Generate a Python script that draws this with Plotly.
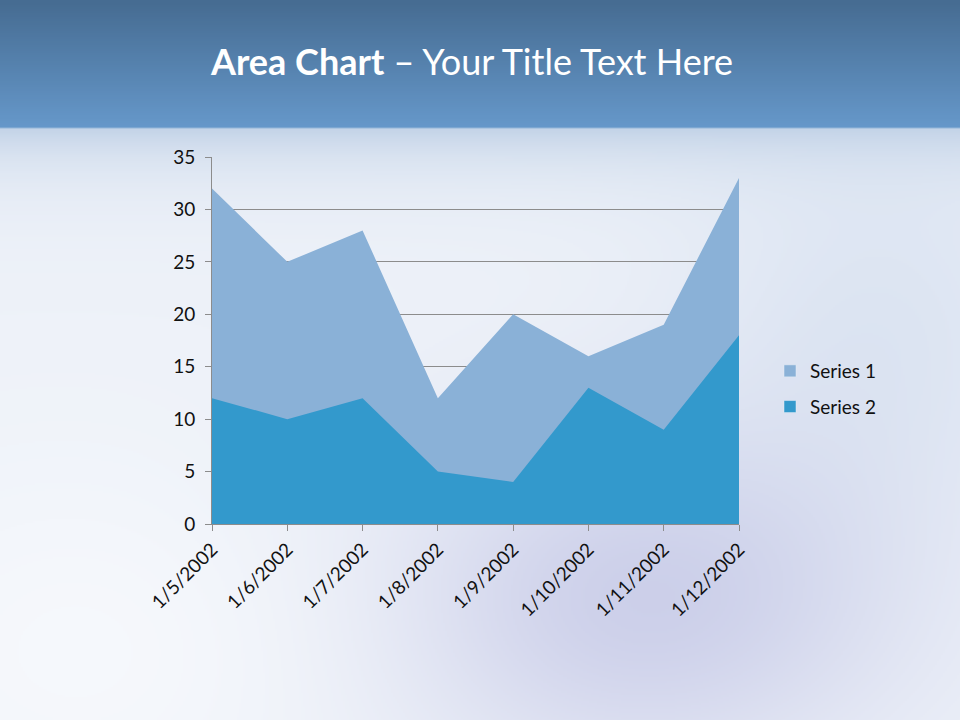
import base64, struct, zlib
import numpy as np
import plotly.graph_objects as go

# ---- data ----
categories = ["1/5/2002", "1/6/2002", "1/7/2002", "1/8/2002",
              "1/9/2002", "1/10/2002", "1/11/2002", "1/12/2002"]
series1 = [32, 25, 28, 12, 20, 16, 19, 33]
series2 = [12, 10, 12, 5, 4, 13, 9, 18]
series_names = ["Series 1", "Series 2"]
colors = ["#8AB1D7", "#3399CC"]

W, H = 960, 720
L, R, T, B = 212, 739, 157, 524
pw, ph = R - L, B - T

# ---- background image (gradient slide) ----
def make_bg(w=480, h=360):
    s = W / w
    ys, xs = np.mgrid[0:h, 0:w].astype(float)
    ys *= s; xs *= s
    img = np.zeros((h, w, 3))
    base = np.array([238, 242, 249], float)
    img[:] = base
    d = np.exp(-(((xs - 640) / 260) ** 2 + ((ys - 600) / 170) ** 2))
    img += d[..., None] * (np.array([205, 208, 234]) - base)
    d2 = np.exp(-(((xs - 880) / 200) ** 2 + ((ys - 330) / 200) ** 2))
    img += d2[..., None] * (np.array([214, 224, 240]) - base) * 0.7
    d3 = np.exp(-(((xs - 80) / 260) ** 2 + ((ys - 650) / 200) ** 2))
    img += d3[..., None] * (np.array([248, 250, 253]) - img) * 0.8
    f = np.clip(np.exp(-(ys - 128) / 40), 0, 1)
    f[ys < 128] = 0
    under = np.array([196, 212, 232], float)
    img = img * (1 - f[..., None]) + under * f[..., None]
    top = np.array([70, 108, 146], float)
    bot = np.array([102, 152, 202], float)
    t = np.clip(ys / 125.0, 0, 1)
    ban = top * (1 - t[..., None]) + bot * t[..., None]
    m = (ys < 128)[..., None]
    img = np.where(m, ban, img)
    img = np.clip(img, 0, 255).astype(np.uint8)
    raw = b"".join(b"\x00" + img[r].tobytes() for r in range(h))
    def chunk(tag, data):
        c = struct.pack(">I", len(data)) + tag + data
        return c + struct.pack(">I", zlib.crc32(tag + data) & 0xffffffff)
    png = b"\x89PNG\r\n\x1a\n" + chunk(b"IHDR", struct.pack(">IIBBBBB", w, h, 8, 2, 0, 0, 0)) \
        + chunk(b"IDAT", zlib.compress(raw, 9)) + chunk(b"IEND", b"")
    return "data:image/png;base64," + base64.b64encode(png).decode()

bg = make_bg()

fig = go.Figure()
fig.add_trace(go.Scatter(x=categories, y=series1, name=series_names[0], mode="none",
                         fill="tozeroy", fillcolor=colors[0], showlegend=False))
fig.add_trace(go.Scatter(x=categories, y=series2, name=series_names[1], mode="none",
                         fill="tozeroy", fillcolor=colors[1], showlegend=False))
# legend-only entries (square swatches)
for i, (nm, c) in enumerate(zip(series_names, colors)):
    fig.add_trace(go.Bar(x=[categories[0]], y=[None], name=nm, marker_color=c,
                         legendgroup=f"g{i}", showlegend=True))

font = "Lato, 'Open Sans', sans-serif"
fig.update_layout(
    width=W, height=H,
    margin=dict(l=L, r=W - R, t=T, b=H - B, pad=0),
    paper_bgcolor="#EEF2F9", plot_bgcolor="rgba(0,0,0,0)",
    font=dict(family=font, size=19, color="#111111"),
    title=dict(text="<b>Area Chart</b> – Your Title Text Here",
               x=472 / W, xref="container", xanchor="center",
               y=1 - 62 / H, yref="container", yanchor="middle",
               font=dict(family=font, size=36, color="white")),
    showlegend=True,
    legend=dict(x=(770 - L) / pw, xanchor="left", y=(B - 389) / ph, yanchor="middle",
                bgcolor="rgba(0,0,0,0)", font=dict(size=19, color="#111111"),
                tracegroupgap=8),
    images=[dict(source=bg, xref="paper", yref="paper", x=-L / pw, y=1 + T / ph,
                 sizex=W / pw, sizey=H / ph, xanchor="left", yanchor="top",
                 sizing="stretch", layer="below")],
)
fig.update_xaxes(type="category", range=[0, 7], showgrid=False, showline=True,
                 linecolor="#8C8C8C", linewidth=1, ticks="outside", ticklen=6,
                 tickcolor="#8C8C8C", tickangle=-45, tickfont=dict(size=19),
                 zeroline=False)
fig.update_yaxes(range=[0, 35], dtick=5, showgrid=True, gridcolor="#8C8C8C",
                 gridwidth=1, showline=True, linecolor="#8C8C8C", ticks="outside",
                 ticklen=6, tickcolor="#8C8C8C", tickfont=dict(size=19),
                 zeroline=False, ticklabelstandoff=6)

fig.write_html("out.html", config={"displayModeBar": False},
               post_script="document.body.style.margin='0';document.body.style.padding='0';")
